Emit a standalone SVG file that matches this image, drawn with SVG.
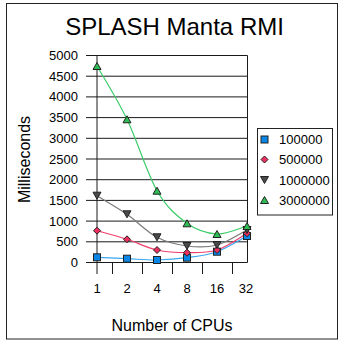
<svg xmlns="http://www.w3.org/2000/svg" xmlns:xlink="http://www.w3.org/1999/xlink" width="339" height="342" viewBox="0 0 339 342">
<style>
text { font-family: "Liberation Sans", Arial, sans-serif; fill: #000; }
.title { font-size: 24px; text-anchor: middle; }
.axt { font-size: 16px; text-anchor: middle; }
.yl { font-size: 13px; text-anchor: end; }
.xl { font-size: 13px; text-anchor: middle; }
.lg { font-size: 13px; }
.grid { stroke: #1a1a1a; stroke-width: 1; fill: none; }
.ln { fill: none; stroke-width: 1.2; }
.s1 { stroke: #3aa8f0; }
.s2 { stroke: #f0406a; }
.s3 { stroke: #7a7a7a; }
.s4 { stroke: #3ccc6a; }
.m { stroke: #222; stroke-width: 1; }
.m1 { fill: #0a86e6; }
.m2 { fill: #ee2e5e; }
.m3 { fill: #4a4a4a; }
.m4 { fill: #2ebd55; }
</style>
<defs>
<rect id="sq" x="-3.5" y="-3.5" width="7" height="7"/>
<polygon id="dm" points="0,-3.5 3.5,0 0,3.5 -3.5,0"/>
<polygon id="td" points="-4,-3.5 4,-3.5 0,3.5"/>
<polygon id="tu" points="0,-3.5 4,3.5 -4,3.5"/>
</defs>
<rect x="0" y="0" width="339" height="342" fill="#fff"/>
<rect id="frame" x="6.5" y="3.5" width="331" height="335.5" fill="none" stroke="#222" stroke-width="1"/>
<g id="title"><text class="title" x="174.5" y="35">SPLASH Manta RMI</text></g>
<g id="grid">
<path class="grid" d="M86,55.5H247.5M86,76.2H247.5M86,96.9H247.5M86,117.6H247.5M86,138.3H247.5M86,159H247.5M86,179.7H247.5M86,200.4H247.5M86,221.1H247.5M86,241.8H247.5M86,262.5H247.5"/>
<path class="grid" d="M97,55.5V274M247.5,55.5V262.5M112.5,262.5V274M142.5,262.5V274M172.5,262.5V274M202.5,262.5V274M232.5,262.5V274"/>
</g>
<g id="yaxis">
<text class="yl" x="78" y="60">5000</text>
<text class="yl" x="78" y="80.7">4500</text>
<text class="yl" x="78" y="101.4">4000</text>
<text class="yl" x="78" y="122.1">3500</text>
<text class="yl" x="78" y="142.8">3000</text>
<text class="yl" x="78" y="163.5">2500</text>
<text class="yl" x="78" y="184.2">2000</text>
<text class="yl" x="78" y="204.9">1500</text>
<text class="yl" x="78" y="225.6">1000</text>
<text class="yl" x="78" y="246.3">500</text>
<text class="yl" x="78" y="267">0</text>
<text class="axt" transform="translate(30,159.5) rotate(-90)">Milliseconds</text>
</g>
<g id="xaxis">
<text class="xl" x="97" y="292.5">1</text>
<text class="xl" x="127" y="292.5">2</text>
<text class="xl" x="157" y="292.5">4</text>
<text class="xl" x="187" y="292.5">8</text>
<text class="xl" x="217" y="292.5">16</text>
<text class="xl" x="246" y="292.5">32</text>
<text class="axt" x="172" y="331">Number of CPUs</text>
</g>
<g id="connectors">
<path class="ln s1" d="M97,257.3C102,257.5 117,258.25 127,258.7C137,259.15 147,260.17 157,260C167,259.83 177,259.08 187,257.7C197,256.32 207,255.32 217,251.7C227,248.08 242,238.62 247,236"/>
<path class="ln s2" d="M97,230.7C102,232.13 117,236.08 127,239.3C137,242.52 147,247.77 157,250C167,252.23 177,252.7 187,252.7C197,252.7 207,253.23 217,250C227,246.77 242,236.08 247,233.3"/>
<path class="ln s3" d="M97,195.7C102,198.8 117,207.37 127,214.3C137,221.23 147,232.02 157,237.3C167,242.58 177,244.72 187,246C197,247.28 207,247.67 217,245C227,242.33 242,232.5 247,230"/>
<path class="ln s4" d="M97,66C102,74.88 117,98.52 127,119.3C137,140.08 147,173.37 157,190.7C167,208.03 177,216.08 187,223.3C197,230.52 207,233.55 217,234C227,234.45 242,227.33 247,226"/>
</g>
<g id="series-100000" class="m m1">
<use href="#sq" x="97" y="257.3"/><use href="#sq" x="127" y="258.7"/><use href="#sq" x="157" y="260"/><use href="#sq" x="187" y="257.7"/><use href="#sq" x="217" y="251.7"/><use href="#sq" x="247" y="236"/>
</g>
<g id="series-500000" class="m m2">
<use href="#dm" x="97" y="230.7"/><use href="#dm" x="127" y="239.3"/><use href="#dm" x="157" y="250"/><use href="#dm" x="187" y="252.7"/><use href="#dm" x="217" y="250"/><use href="#dm" x="247" y="233.3"/>
</g>
<g id="series-1000000" class="m m3">
<use href="#td" x="97" y="195.7"/><use href="#td" x="127" y="214.3"/><use href="#td" x="157" y="237.3"/><use href="#td" x="187" y="246"/><use href="#td" x="217" y="245"/><use href="#td" x="247" y="230"/>
</g>
<g id="series-3000000" class="m m4">
<use href="#tu" x="97" y="66"/><use href="#tu" x="127" y="119.3"/><use href="#tu" x="157" y="190.7"/><use href="#tu" x="187" y="223.3"/><use href="#tu" x="217" y="234"/><use href="#tu" x="247" y="226"/>
</g>
<g id="legend">
<rect x="257.5" y="128.5" width="75" height="86.5" fill="#fff" stroke="#222" stroke-width="1"/>
<use href="#sq" x="264.5" y="139.5" class="m m1"/>
<use href="#dm" x="264.5" y="159.5" class="m m2"/>
<use href="#td" x="264.5" y="180" class="m m3"/>
<use href="#tu" x="264.5" y="200" class="m m4"/>
<text class="lg" x="279" y="144">100000</text>
<text class="lg" x="279" y="164">500000</text>
<text class="lg" x="279" y="184.5">1000000</text>
<text class="lg" x="279" y="204.5">3000000</text>
</g>
</svg>
